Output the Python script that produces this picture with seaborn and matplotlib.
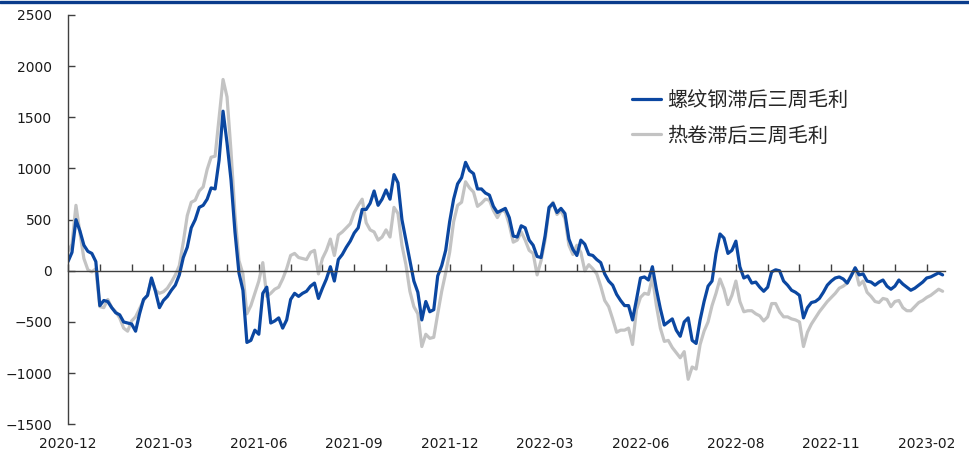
import numpy as np
import pandas as pd
import matplotlib
matplotlib.use('Agg')
import matplotlib.pyplot as plt
import seaborn as sns
from matplotlib.lines import Line2D
from matplotlib.ticker import FixedLocator

# 螺纹钢滞后三周毛利 (daily)
rebar = [
    90, 180, 500, 390, 250, 190, 170, 90, -340, -290,
    -300, -360, -410, -430, -500, -510, -520, -590, -420, -280,
    -240, -70, -200, -360, -290, -250, -190, -140, -40, 130,
    230, 420, 500, 620, 640, 700, 810, 800, 1080, 1560,
    1250, 890, 380, -20, -190, -700, -680, -580, -620, -220,
    -160, -510, -490, -460, -560, -480, -280, -220, -250, -220,
    -200, -150, -120, -270, -170, -80, 40, -100, 110, 160,
    230, 290, 370, 420, 600, 600, 660, 780, 640, 700,
    790, 700, 940, 860, 500, 300, 100, -100, -210, -480,
    -300, -400, -380, -50, 50, 200, 480, 700, 850, 910,
    1060, 980, 950, 800, 800, 760, 740, 630, 570, 590,
    610, 520, 340, 330, 440, 420, 300, 250, 140, 130,
    340, 620, 660, 570, 610, 560, 310, 210, 150, 300,
    260, 160, 150, 110, 80, -30, -100, -140, -230, -290,
    -340, -340, -480, -280, -70, -60, -90, 40, -180, -370,
    -530, -500, -470, -580, -640, -500, -460, -680, -710, -480,
    -300, -150, -100, 170, 360, 320, 170, 200, 290, 40,
    -70, -50, -120, -110, -160, -200, -160, -10, 10, 0,
    -100, -140, -190, -210, -240, -460, -360, -310, -300, -270,
    -210, -140, -100, -70, -60, -80, -120, -50, 30, -40,
    -30, -100, -110, -140, -110, -90, -150, -180, -150, -90,
    -130, -160, -190, -170, -140, -110, -70, -60, -40, -20,
    -40,
]

# 热卷滞后三周毛利
hrc = [
    190, 260, 640, 370, 120, 10, -10, 20, -350, -360,
    -280, -360, -400, -460, -560, -590, -490, -450, -370, -290,
    -240, -80, -190, -220, -205, -170, -110, -40, 50, 280,
    540, 670, 690, 780, 820, 990, 1110, 1120, 1500, 1870,
    1700, 1170, 550, 100, -30, -420, -340, -220, -100, 80,
    -250, -220, -180, -160, -80, 20, 150, 170, 130, 120,
    110, 180, 200, -30, 120, 200, 310, 150, 350, 380,
    420, 460, 570, 640, 700, 470, 400, 380, 300, 330,
    400, 330, 620, 560, 250, 60, -200, -350, -420, -740,
    -620, -660, -650, -420, -200, -20, 180, 480, 640, 670,
    870, 810, 770, 630, 660, 700, 690, 590, 520, 590,
    580, 450, 280, 300, 380, 300, 200, 170, -40, 100,
    300, 600, 670, 550, 590, 510, 250, 160, 250, 180,
    0, 60, 20, -30, -150, -290, -350, -470, -600, -580,
    -580, -560, -720, -380, -260, -220, -230, -60, -340, -560,
    -690, -680, -750, -800, -850, -790, -1060, -940, -960, -720,
    -590, -500, -340, -220, -80, -180, -330, -240, -100, -300,
    -400, -390, -390, -420, -440, -490, -450, -320, -320, -400,
    -450, -450, -470, -480, -500, -740, -600, -520, -460, -400,
    -350, -300, -260, -220, -170, -150, -120, -40, 20, -140,
    -100, -210, -250, -300, -310, -270, -280, -350, -300, -290,
    -360, -390, -390, -350, -310, -290, -260, -240, -210, -180,
    -200,
]

series_names = ['螺纹钢滞后三周毛利', '热卷滞后三周毛利']
tick_labels = ['2020-12', '2021-03', '2021-06', '2021-09', '2021-12',
               '2022-03', '2022-06', '2022-08', '2022-11', '2023-02']
label_step = 24   # trading days between labelled ticks
minor_step = 8    # trading days between tick marks

n = len(rebar)
idx = np.arange(n)
df = pd.DataFrame({
    'idx': np.concatenate([idx, np.arange(len(hrc))]),
    'value': rebar + hrc,
    'series': [series_names[0]] * n + [series_names[1]] * len(hrc),
})

sns.set_theme(style='white')
plt.rcParams['font.family'] = ['DejaVu Sans']

W, H = 969, 457
fig = plt.figure(figsize=(W / 100, H / 100), dpi=100)
ax = fig.add_axes([68 / W, 1 - 424.3 / H, (945 - 68) / W, (424.3 - 15) / H])

blue = '#0B47A1'
grey = '#C3C3C3'
sns.lineplot(data=df[df.series == series_names[1]], x='idx', y='value',
             color=grey, lw=2.3, ax=ax, label=series_names[1])
sns.lineplot(data=df[df.series == series_names[0]], x='idx', y='value',
             color=blue, lw=2.3, ax=ax, label=series_names[0])

ax.set_xlim(0, n - 1 + 0.6)
ax.set_ylim(-1500, 2500)
ax.set_yticks(np.arange(-1500, 2501, 500))
ax.set_xlabel('')
ax.set_ylabel('')

major = [i * label_step for i in range(len(tick_labels))]
ax.xaxis.set_major_locator(FixedLocator(major))
ax.set_xticklabels(tick_labels)
ax.xaxis.set_minor_locator(FixedLocator(
    [i for i in range(0, n, minor_step) if i % label_step != 0]))

for s in ['top', 'right']:
    ax.spines[s].set_visible(False)
ax.spines['bottom'].set_position(('data', 0))
for s in ['bottom', 'left']:
    ax.spines[s].set_color('#404040')
    ax.spines[s].set_linewidth(1.0)

ax.tick_params(axis='x', which='both', direction='in', length=5, width=1,
               color='#404040', bottom=True)
ax.tick_params(axis='x', which='major', pad=120, labelsize=10, labelcolor='#1a1a1a')
ax.tick_params(axis='y', direction='in', length=5, width=1, color='#404040',
               pad=11.5, labelsize=10, labelcolor='#1a1a1a', left=True)

handles, labels = ax.get_legend_handles_labels()
order = [labels.index(series_names[0]), labels.index(series_names[1])]
ax.legend([handles[i] for i in order], [labels[i] for i in order],
          loc='upper left', bbox_to_anchor=(632 / W, 1 - 90 / H),
          bbox_transform=fig.transFigure, frameon=False,
          prop={'family': ['Noto Sans CJK SC', 'DejaVu Sans'], 'size': 14.5},
          handlelength=1.45, handletextpad=0.3, labelspacing=0.72,
          borderpad=0, borderaxespad=0)

fig.add_artist(Line2D([0, 1], [1 - 1.5 / H, 1 - 1.5 / H], transform=fig.transFigure,
                      color='#0A3C8C', lw=2.4))

fig.savefig('out.png', dpi=100)
